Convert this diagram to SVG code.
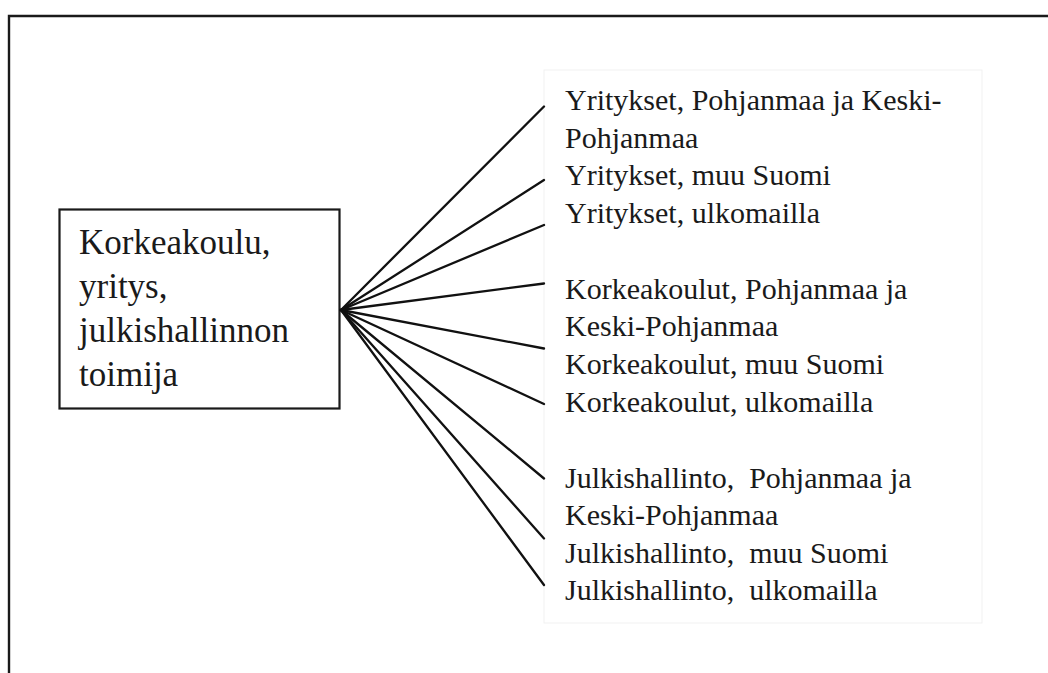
<svg xmlns="http://www.w3.org/2000/svg" width="1048" height="673" viewBox="0 0 1048 673">
<style>
.frame{stroke:#1a1a1a;stroke-width:2.4;fill:none}
.box{fill:#fff;stroke:#1a1a1a;stroke-width:2.2}
.tbox{fill:#fff;stroke:#f1f1f1;stroke-width:1}
.lt{font-family:"Liberation Serif","Times New Roman",serif;font-size:35px;fill:#1a1a1a}
.rt{font-family:"Liberation Serif","Times New Roman",serif;font-size:30px;fill:#1a1a1a}
.conn line{stroke:#111;stroke-width:2.3;stroke-linecap:round}
</style>
<rect x="0" y="0" width="1048" height="673" fill="#fff"/>
<path class="frame" d="M9,673 V16 H1048"/>
<g id="targets">
<rect class="tbox" x="544" y="70" width="438" height="553"/>
<text class="rt" xml:space="preserve"><tspan x="565" y="110">Yritykset, Pohjanmaa ja Keski-</tspan><tspan x="565" y="147.6">Pohjanmaa</tspan><tspan x="565" y="185.2">Yritykset, muu Suomi</tspan><tspan x="565" y="222.8">Yritykset, ulkomailla</tspan><tspan x="565" y="298.5">Korkeakoulut, Pohjanmaa ja</tspan><tspan x="565" y="336.2">Keski-Pohjanmaa</tspan><tspan x="565" y="374">Korkeakoulut, muu Suomi</tspan><tspan x="565" y="411.5">Korkeakoulut, ulkomailla</tspan><tspan x="565" y="487.5">Julkishallinto,  Pohjanmaa ja</tspan><tspan x="565" y="525">Keski-Pohjanmaa</tspan><tspan x="565" y="562.8">Julkishallinto,  muu Suomi</tspan><tspan x="565" y="600">Julkishallinto,  ulkomailla</tspan></text>
</g>
<g id="source">
<rect class="box" x="59.5" y="209.5" width="280" height="199"/>
<text class="lt"><tspan x="79" y="254">Korkeakoulu,</tspan><tspan x="79" y="298">yritys,</tspan><tspan x="79" y="342">julkishallinnon</tspan><tspan x="79" y="386">toimija</tspan></text>
</g>
<g id="connectors" class="conn">
<line x1="341" y1="310" x2="544" y2="106.5"/>
<line x1="341" y1="310" x2="544" y2="180"/>
<line x1="341" y1="310" x2="544" y2="225"/>
<line x1="341" y1="310" x2="544" y2="283.5"/>
<line x1="341" y1="310" x2="544" y2="348.5"/>
<line x1="341" y1="310" x2="544" y2="404"/>
<line x1="341" y1="310" x2="544" y2="478.5"/>
<line x1="341" y1="310" x2="544" y2="538.5"/>
<line x1="341" y1="310" x2="544" y2="585"/>
</g>
</svg>
